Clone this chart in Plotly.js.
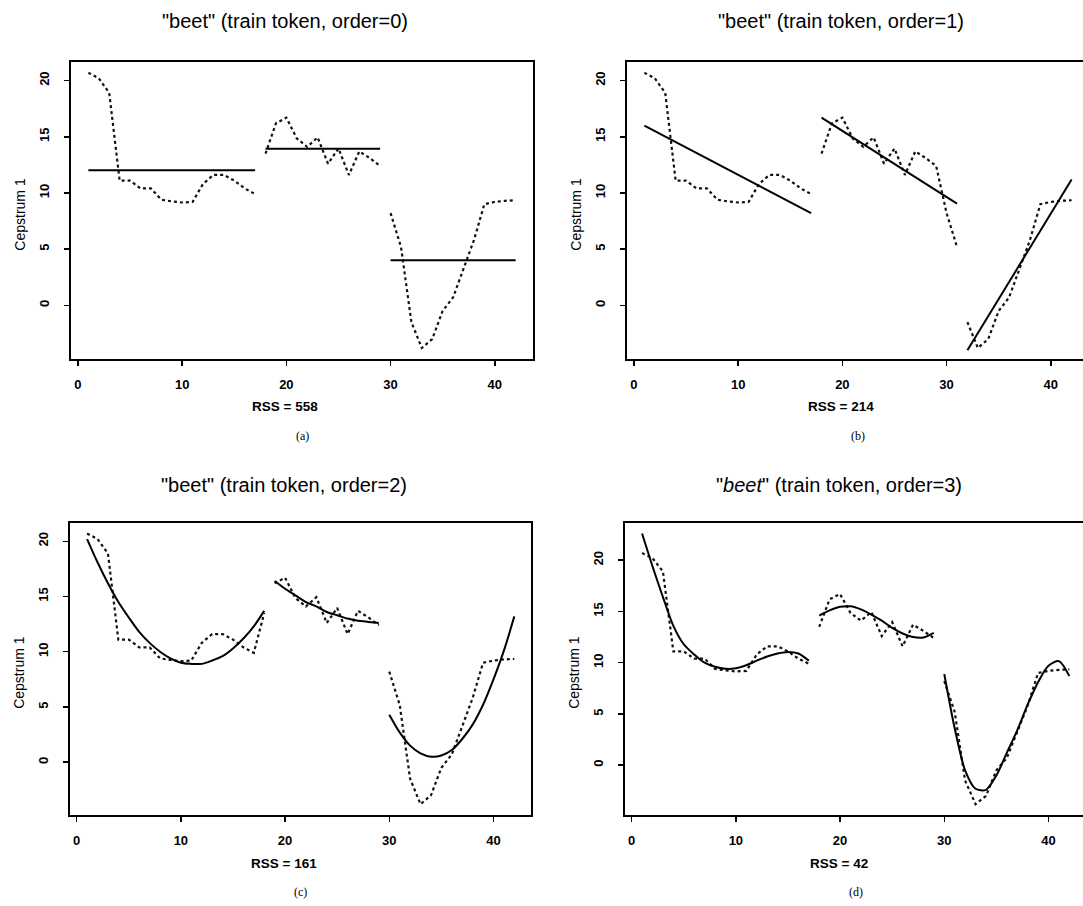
<!DOCTYPE html>
<html><head><meta charset="utf-8">
<script src="https://cdn.plot.ly/plotly-3.0.1.min.js"></script>
<style>html,body{margin:0;padding:0;overflow:hidden;background:#fff}#plot{width:1100px;height:906px}</style>
</head><body><div id="plot"></div>
<script>
// ---- data ----
const frameIdx = [1,2,3,4,5,6,7,8,9,10,11,12,13,14,15,16,17,18,19,20,21,22,23,24,25,26,27,28,29,30,31,32,33,34,35,36,37,38,39,40,41,42];
const cepstrum1 = [20.7,20.2,18.9,11.1,11.1,10.4,10.4,9.4,9.25,9.15,9.2,10.8,11.6,11.6,11.1,10.4,9.9,
                   13.5,16.2,16.7,14.85,14.1,14.94,12.6,13.96,11.6,13.7,13.1,12.4,
                   8.2,5.2,-1.5,-3.8,-3.0,-0.5,0.7,3.2,5.8,9.0,9.2,9.3,9.35];
const panelTitles = ['"beet" (train token, order=0)','"beet" (train token, order=1)','"beet" (train token, order=2)','"<i>beet</i>" (train token, order=3)'];
const rssValues = [558, 214, 161, 42];
const panelLabels = ['(a)','(b)','(c)','(d)'];
const xTicks = [0,10,20,30,40];
const yTicks = [0,5,10,15,20];
// segment boundaries (first frame, last frame) per panel
const segOrder0 = [[1,17],[18,29],[30,42]];
const segOrder1 = [[1,17],[18,31],[32,42]];
const segOrder2 = [[1,18],[19,29],[30,42]];
const segOrder3 = [[1,17],[18,29],[30,42]];
// fitted values
const fitOrder0 = [[12.03,12.03],[13.93,13.93],[4.0,4.0]];          // segment ends
const fitOrder1 = [[16.0,8.2],[16.7,9.05],[-4.0,11.2]];             // segment ends
const fitOrder2 = [
  [20.2,18.1,16.2,14.5,13.1,11.8,10.8,10.0,9.4,9.0,8.9,8.9,9.2,9.6,10.3,11.2,12.3,13.7],
  [16.4,15.7,15.1,14.5,14.1,13.6,13.3,13.0,12.8,12.7,12.6],
  [4.3,2.7,1.5,0.8,0.5,0.6,1.1,2.1,3.4,5.2,7.5,10.1,13.2]];
const fitOrder3 = [
  [22.6,19.4,16.4,13.6,11.8,10.8,10.0,9.6,9.4,9.45,9.75,10.2,10.6,10.9,11.05,10.9,10.2],
  [14.6,15.1,15.45,15.5,15.2,14.7,14.1,13.4,12.85,12.5,12.45,12.9],
  [8.9,3.6,-0.5,-2.3,-2.4,-1.0,1.2,3.4,5.9,8.1,9.7,10.15,8.7]];

// ---- layout geometry ----
const W = 1100, H = 906;
const boxes = [[71.3,532.7,61.7,359],[627.3,1088.7,61.7,359],[70,531.4,522.7,815],[625,1086.4,522.7,815]];
const titleOffsets = [41, 41, 38, 38];
const yRanges = [[-4.78,21.68],[-4.78,21.68],[-4.78,21.68],[-4.86,23.66]];
const segs = [segOrder0, segOrder1, segOrder2, segOrder3];
const fits = [fitOrder0, fitOrder1, fitOrder2, fitOrder3];

const traces = [];
const layout = {width: W, height: H, margin:{l:0,r:0,t:0,b:0}, showlegend:false,
  paper_bgcolor:'#fff', plot_bgcolor:'#fff', annotations: [],
  font:{family:'Liberation Sans, Arial, sans-serif', color:'#000'}};
const px = v => v / W, py = v => 1 - v / H;

for (let p = 0; p < 4; p++) {
  const xa = 'x' + (p+1), ya = 'y' + (p+1);
  const b = boxes[p];
  segs[p].forEach((sg, si) => {
    const i0 = frameIdx.indexOf(sg[0]), i1 = frameIdx.indexOf(sg[1]);
    const xs = frameIdx.slice(i0, i1+1);
    traces.push({x: xs, y: cepstrum1.slice(i0, i1+1), xaxis: xa, yaxis: ya, mode:'lines',
      line:{color:'#111', width:2.2, dash:'dot'}, hoverinfo:'skip'});
    const f = fits[p][si];
    if (f.length === 2 && p < 2) {
      traces.push({x:[sg[0], sg[1]], y:f, xaxis: xa, yaxis: ya, mode:'lines',
        line:{color:'#000', width:2}, hoverinfo:'skip'});
    } else {
      traces.push({x: xs, y: f, xaxis: xa, yaxis: ya, mode:'lines',
        line:{color:'#000', width:2, shape:'spline', smoothing:0.8}, hoverinfo:'skip'});
    }
  });
  const axCommon = {showgrid:false, zeroline:false, showline:true, linecolor:'#000', linewidth:2,
    mirror:true, ticks:'outside', ticklen:5, tickwidth:1.5, tickcolor:'#000',
    tickfont:{family:'Liberation Sans, Arial, sans-serif', size:13, weight:'bold', color:'#000'}};
  layout['xaxis' + (p+1)] = Object.assign({}, axCommon, {domain:[px(b[0]), px(b[1])], range:[-0.64,43.64],
    tickvals:xTicks, anchor: ya, ticklabelstandoff: 7});
  layout['yaxis' + (p+1)] = Object.assign({}, axCommon, {domain:[py(b[3]), py(b[2])], range:yRanges[p],
    tickvals:yTicks, anchor: xa, tickangle:-90, ticklabelstandoff: 10});
  const cx = (b[0] + b[1]) / 2;
  layout.annotations.push({xref:'paper', yref:'paper', x:px(cx - 17), y:py(b[2] - titleOffsets[p]), text:panelTitles[p],
    showarrow:false, xanchor:'center', yanchor:'middle', font:{size:20, color:'#000'}});
  layout.annotations.push({xref:'paper', yref:'paper', x:px(b[0] - 51), y:py((b[2]+b[3])/2 + 4), text:'Cepstrum 1',
    showarrow:false, textangle:-90, xanchor:'center', yanchor:'middle', font:{size:14, color:'#000'}});
  layout.annotations.push({xref:'paper', yref:'paper', x:px(cx - 17), y:py(b[3] + 48), text:'RSS = ' + rssValues[p],
    showarrow:false, xanchor:'center', yanchor:'middle', font:{size:13.5, weight:'bold', color:'#000'}});
  layout.annotations.push({xref:'paper', yref:'paper', x:px(cx), y:py(b[3] + 77), text:panelLabels[p],
    showarrow:false, xanchor:'center', yanchor:'middle', font:{family:'Liberation Serif, Times New Roman, serif', size:12, color:'#000'}});
}
Plotly.newPlot('plot', traces, layout, {staticPlot:true, displayModeBar:false});
</script></body></html>
